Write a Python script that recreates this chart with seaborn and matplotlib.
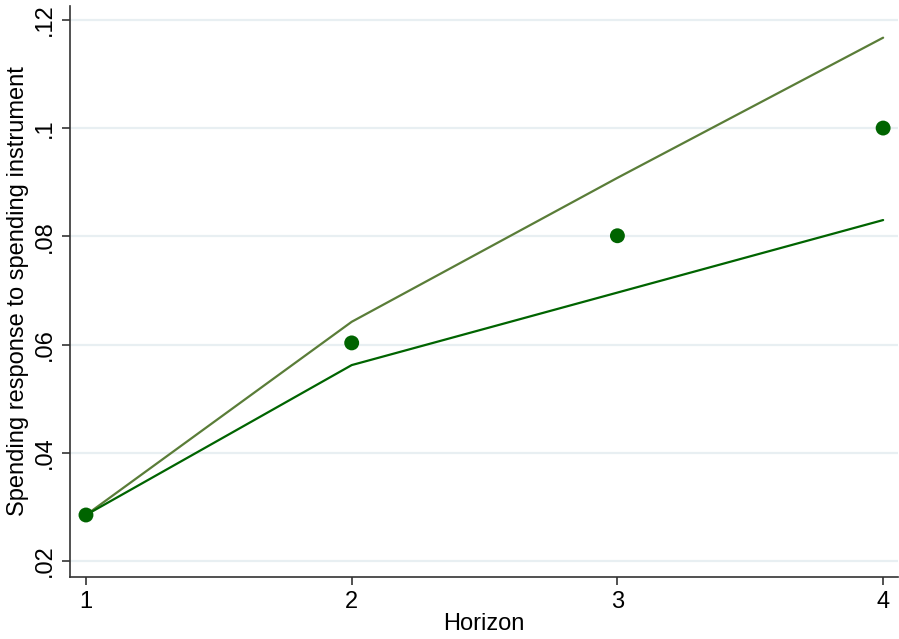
import matplotlib
matplotlib.use("Agg")
import matplotlib.pyplot as plt
import seaborn as sns
import pandas as pd

horizon = [1, 2, 3, 4]
estimate = [0.0285, 0.0603, 0.0801, 0.1000]
upper = [0.0285, 0.0642, 0.0908, 0.1167]
lower = [0.0285, 0.0562, 0.0696, 0.0830]
yticks = [0.02, 0.04, 0.06, 0.08, 0.10, 0.12]
ytick_labels = [".02", ".04", ".06", ".08", ".1", ".12"]

sns.set_theme(style="white")
plt.rcParams['font.family'] = ['Liberation Sans', 'DejaVu Sans']
plt.rcParams['text.color'] = 'black'
plt.rcParams['axes.labelcolor'] = 'black'
plt.rcParams['xtick.color'] = 'black'
plt.rcParams['ytick.color'] = 'black'

df = pd.DataFrame({"Horizon": horizon, "est": estimate, "hi": upper, "lo": lower})

fig = plt.figure(figsize=(8.99, 6.39), dpi=100)
ax = fig.add_axes([0.0779, 0.097, 0.921, 0.894])

for y in yticks:
    ax.axhline(y, color="#e8eff2", lw=1.6, zorder=0)

sns.lineplot(data=df, x="Horizon", y="hi", ax=ax, color="#5a7d38", lw=1.6)
sns.lineplot(data=df, x="Horizon", y="lo", ax=ax, color="#006400", lw=1.6)
sns.scatterplot(data=df, x="Horizon", y="est", ax=ax, color="#006400", s=115,
                edgecolor="none", zorder=5)

ax.set_xlim(0.94, 4.056)
ax.set_ylim(0.01704, 0.1226)
ax.set_xticks(horizon)
ax.set_xticklabels([str(h) for h in horizon], fontsize=17)
ax.set_yticks(yticks)
ax.set_yticklabels(ytick_labels, fontsize=17, rotation=90, va="center")
ax.set_xlabel("Horizon", fontsize=17, labelpad=0)
ax.set_ylabel("Spending response to spending instrument", fontsize=17, labelpad=4)

for s in ["top", "right"]:
    ax.spines[s].set_visible(False)
for s in ["left", "bottom"]:
    ax.spines[s].set_color("#333333")
    ax.spines[s].set_linewidth(1.2)
ax.tick_params(axis="both", direction="out", length=6, width=1.2, color="#333333",
               labelcolor="black", left=True, bottom=True, pad=4)

fig.savefig("out.png", dpi=100)
